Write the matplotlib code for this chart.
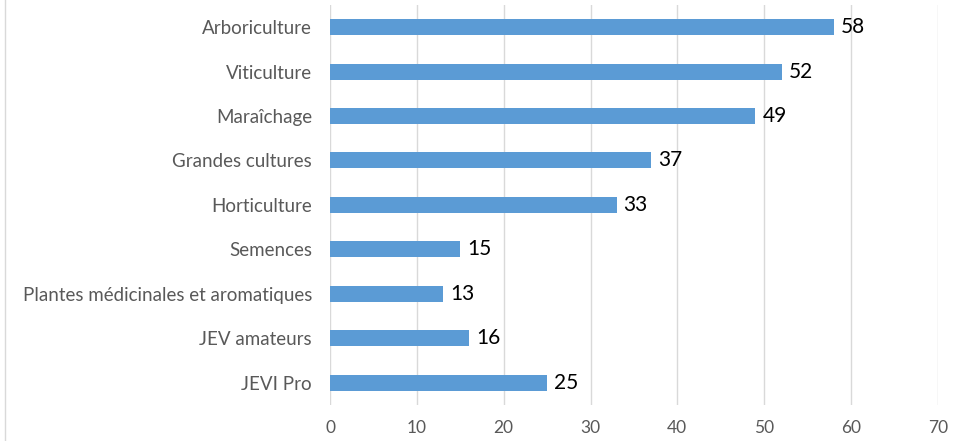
import matplotlib
matplotlib.use("Agg")
import matplotlib.pyplot as plt
from matplotlib.lines import Line2D

categories = ['Arboriculture', 'Viticulture', 'Maraîchage', 'Grandes cultures',
              'Horticulture', 'Semences', 'Plantes médicinales et aromatiques',
              'JEV amateurs', 'JEVI Pro']
values = [58, 52, 49, 37, 33, 15, 13, 16, 25]
xticks = [0, 10, 20, 30, 40, 50, 60, 70]

plt.rcParams['font.family'] = ['Lato', 'DejaVu Sans']

fig = plt.figure(figsize=(9.54, 4.41), dpi=100)
ax = fig.add_axes([0.346, 0.082, 0.637, 0.907])

ys = list(range(len(categories)))
ax.barh(ys, values, height=0.36, color='#5B9BD5', zorder=3)
for y, v in zip(ys, values):
    ax.annotate(str(v), (v, y), xytext=(5, 0), textcoords='offset points',
                va='center', ha='left', fontsize=15, color='black')

ax.set_yticks(ys)
ax.set_yticklabels(categories)
ax.set_ylim(len(categories) - 0.5, -0.5)
ax.set_xlim(0, 70)
ax.set_xticks(xticks)
ax.xaxis.grid(True, color='#D9D9D9', linewidth=1, zorder=0)
ax.tick_params(axis='both', length=0, colors='#595959')
ax.tick_params(axis='y', pad=13, labelsize=13.5)
ax.tick_params(axis='x', pad=11, labelsize=12.5)
for s in ax.spines.values():
    s.set_visible(False)

# thin frame line on the left of the picture
fig.add_artist(Line2D([5 / 954, 5 / 954], [0, 1], color='#D9D9D9', linewidth=1,
                      transform=fig.transFigure))

fig.savefig('out.png', dpi=100)
